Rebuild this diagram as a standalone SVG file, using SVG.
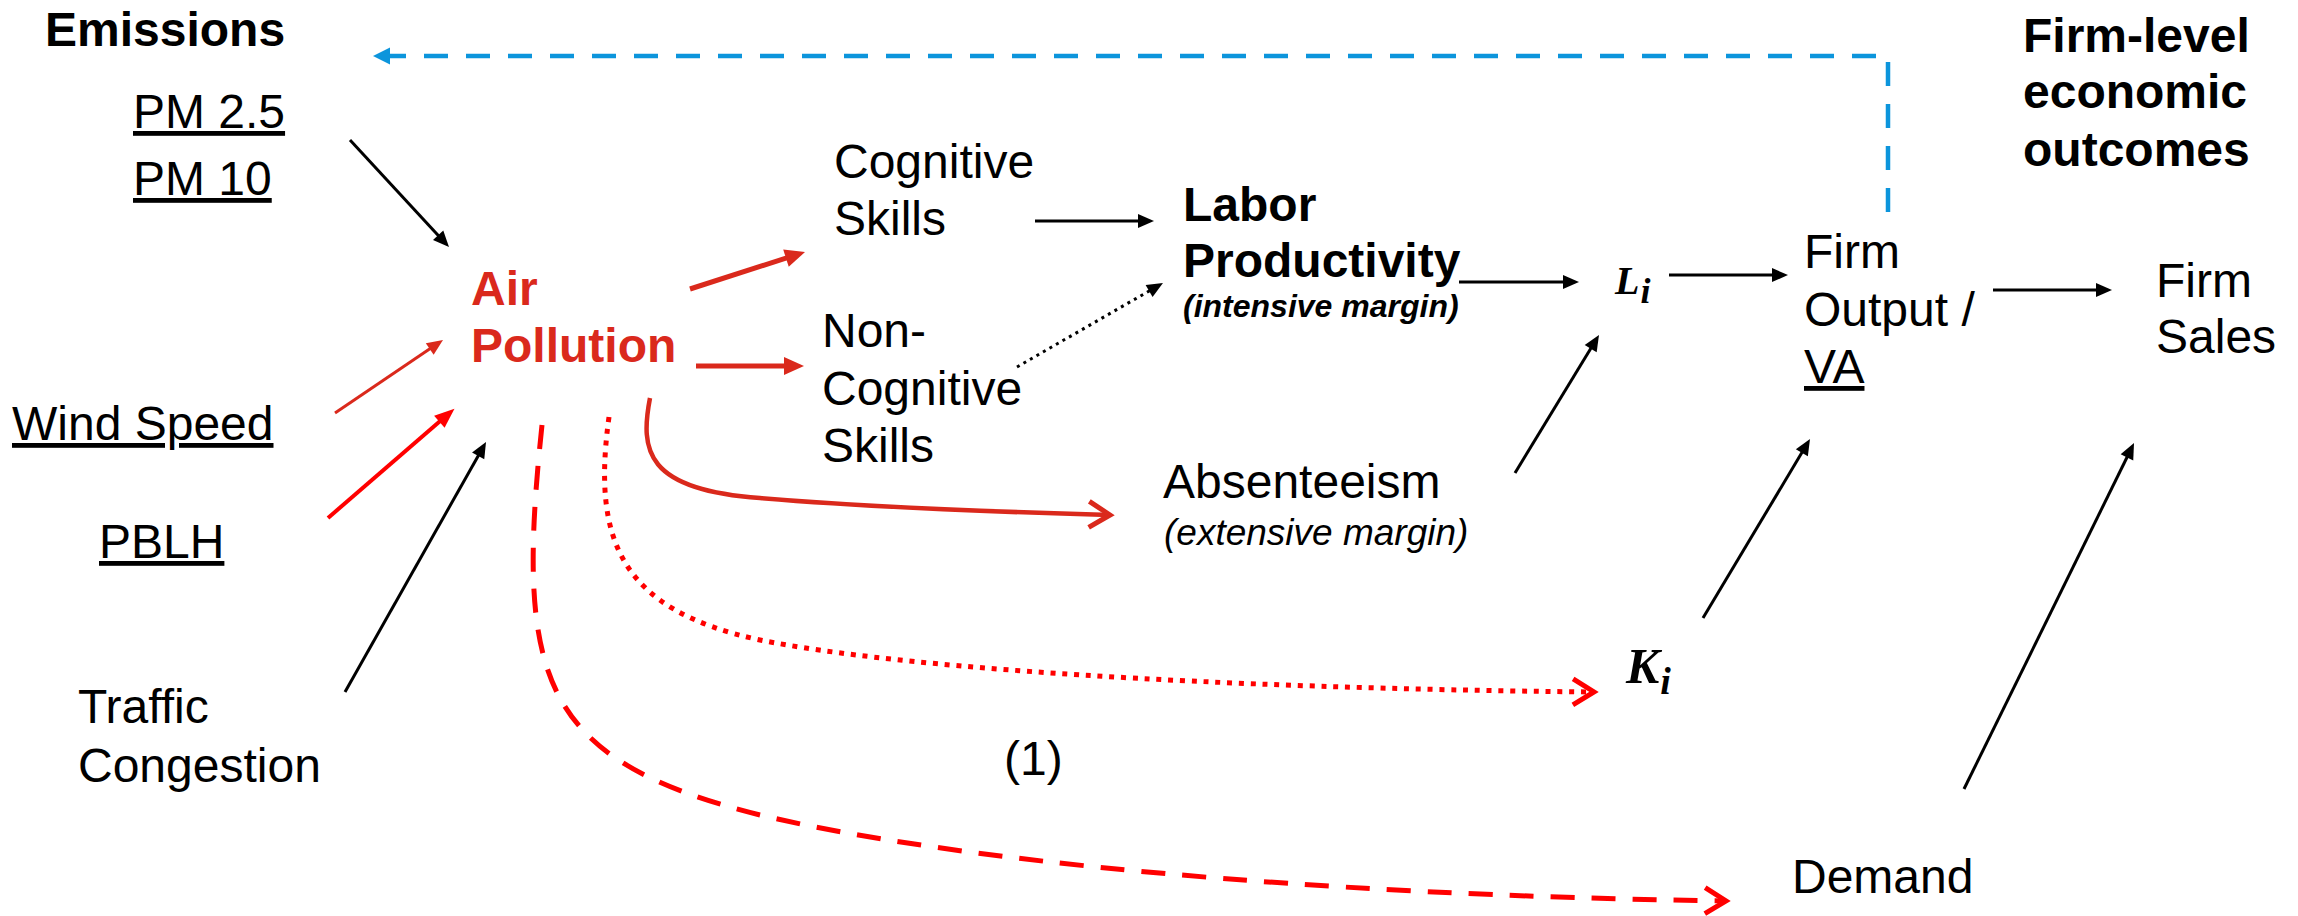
<svg xmlns="http://www.w3.org/2000/svg" width="2298" height="916" viewBox="0 0 2298 916">
<style>
text{font-family:"Liberation Sans",Arial,sans-serif;font-size:48px;fill:#000}
.b{font-weight:bold}
.u{text-decoration:underline}
.red{fill:#DA291C}
.math{font-family:"Liberation Serif","Times New Roman",serif;font-weight:bold;font-style:italic}
.blk{stroke:#000;stroke-width:3;fill:none}
.dr{stroke:#DA291C;fill:none}
.br{stroke:#FF0000;fill:none}
</style>
<defs>
<marker id="hb" markerUnits="userSpaceOnUse" markerWidth="16" markerHeight="14" refX="6" refY="7" orient="auto" overflow="visible"><path d="M0,0 L16,7 L0,14 z" fill="#000"/></marker>
<marker id="hdr" markerUnits="userSpaceOnUse" markerWidth="16" markerHeight="14" refX="6" refY="7" orient="auto" overflow="visible"><path d="M0,0 L16,7 L0,14 z" fill="#DA291C"/></marker>
<marker id="hdr2" markerUnits="userSpaceOnUse" markerWidth="20" markerHeight="18" refX="8" refY="9" orient="auto" overflow="visible"><path d="M0,0 L20,9 L0,18 z" fill="#DA291C"/></marker>
<marker id="hbr" markerUnits="userSpaceOnUse" markerWidth="20" markerHeight="16" refX="8" refY="8" orient="auto" overflow="visible"><path d="M0,0 L20,8 L0,16 z" fill="#FF0000"/></marker>
<marker id="hblue" markerUnits="userSpaceOnUse" markerWidth="17" markerHeight="17" refX="0" refY="8.5" orient="auto" overflow="visible"><path d="M0,0 L17,8.5 L0,17 z" fill="#0C95DC"/></marker>
<marker id="vdr" markerUnits="userSpaceOnUse" markerWidth="22" markerHeight="26" refX="21" refY="13" orient="auto" overflow="visible"><path d="M0,0 L21,13 L0,26" fill="none" stroke="#DA291C" stroke-width="5"/></marker>
<marker id="vbr" markerUnits="userSpaceOnUse" markerWidth="22" markerHeight="26" refX="21" refY="13" orient="auto" overflow="visible"><path d="M0,0 L21,13 L0,26" fill="none" stroke="#FF0000" stroke-width="5"/></marker>
</defs>
<rect width="2298" height="916" fill="#fff"/>

<g id="connectors">
<path d="M1888,212 V56 H390" fill="none" stroke="#0C95DC" stroke-width="4.5" stroke-dasharray="24 18" marker-end="url(#hblue)"/>
<path class="blk" d="M350,140 L442.2,239.7" marker-end="url(#hb)"/>
<path class="blk" d="M345,692 L481.1,450.7" marker-end="url(#hb)"/>
<path class="dr" stroke-width="3" d="M335,413 L434.7,345.6" marker-end="url(#hdr)"/>
<path class="br" stroke-width="4" d="M328,518 L445.4,416.5" marker-end="url(#hbr)"/>
<path class="dr" stroke-width="5" d="M690,289 L793.6,255.7" marker-end="url(#hdr2)"/>
<path class="dr" stroke-width="5" d="M696,366 L792,366" marker-end="url(#hdr2)"/>
<path class="blk" d="M1035,221 L1144,221" marker-end="url(#hb)"/>
<path class="blk" d="M1017,367 L1154.3,288" stroke-dasharray="3 4.5" marker-end="url(#hb)"/>
<path class="blk" d="M1459,282 L1569,282" marker-end="url(#hb)"/>
<path class="blk" d="M1515,473 L1593.8,343.5" marker-end="url(#hb)"/>
<path class="blk" d="M1669,275 L1778,275" marker-end="url(#hb)"/>
<path class="blk" d="M1993,290 L2102,290" marker-end="url(#hb)"/>
<path class="blk" d="M1703,618 L1804.9,447.6" marker-end="url(#hb)"/>
<path class="blk" d="M1964,789 L2129.6,452" marker-end="url(#hb)"/>
<path class="dr" stroke-width="4.5" d="M650,398 C640,450 645,490 760,498 C880,508 1000,512 1110,515" marker-end="url(#vdr)"/>
<path class="br" stroke-width="5" stroke-dasharray="5 6.8" d="M609,417 C592,540 620,610 760,640 C900,668 1200,688 1594,692" marker-end="url(#vbr)"/>
<path class="br" stroke-width="5" stroke-dasharray="24 17" d="M542,425 C515,680 540,760 760,815 C950,860 1300,895 1726,901" marker-end="url(#vbr)"/>
</g>

<g id="emissions"><text class="b" x="45" y="46">Emissions</text></g>
<g id="pm25"><text class="u" x="133" y="128">PM 2.5</text></g>
<g id="pm10"><text class="u" x="133" y="195">PM 10</text></g>
<g id="air-pollution"><text class="b red" x="471" y="305">Air</text><text class="b red" x="471" y="362">Pollution</text></g>
<g id="wind-speed"><text class="u" x="12" y="440">Wind Speed</text></g>
<g id="pblh"><text class="u" x="99" y="558">PBLH</text></g>
<g id="traffic"><text x="78" y="723">Traffic</text><text x="78" y="782">Congestion</text></g>
<g id="cognitive"><text x="834" y="178">Cognitive</text><text x="834" y="235">Skills</text></g>
<g id="non-cognitive"><text x="822" y="347">Non-</text><text x="822" y="405">Cognitive</text><text x="822" y="462">Skills</text></g>
<g id="labor-productivity"><text class="b" x="1183" y="221">Labor</text><text class="b" x="1183" y="277">Productivity</text><text x="1183" y="317" style="font-size:32px;font-weight:bold;font-style:italic">(intensive margin)</text></g>
<g id="absenteeism"><text x="1163" y="498">Absenteeism</text><text x="1164" y="545" style="font-size:37px;font-style:italic">(extensive margin)</text></g>
<g id="label-1"><text x="1004" y="775">(1)</text></g>
<g id="li"><text class="math" x="1615" y="294" style="font-size:40px">L<tspan dx="1" dy="9" style="font-size:36px">i</tspan></text></g>
<g id="ki"><text class="math" x="1626" y="683" style="font-size:50px">K<tspan dx="1" dy="11" style="font-size:38px">i</tspan></text></g>
<g id="firm-output"><text x="1804" y="268">Firm</text><text x="1804" y="326">Output /</text><text class="u" x="1804" y="383">VA</text></g>
<g id="firm-sales"><text x="2156" y="297">Firm</text><text x="2156" y="353">Sales</text></g>
<g id="firm-level"><text class="b" x="2023" y="52">Firm-level</text><text class="b" x="2023" y="108">economic</text><text class="b" x="2023" y="166">outcomes</text></g>
<g id="demand"><text x="1792" y="893">Demand</text></g>
</svg>
